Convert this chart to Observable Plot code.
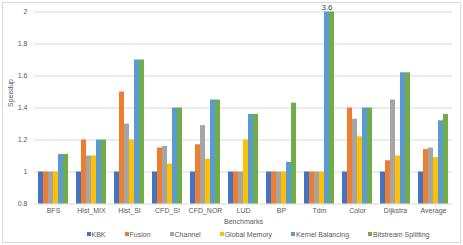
<!DOCTYPE html>
<html>
<head>
<meta charset="utf-8">
<script src="https://cdn.jsdelivr.net/npm/d3@7"></script>
<script src="https://cdn.jsdelivr.net/npm/@observablehq/plot@0.6"></script>
<style>
  html, body { margin: 0; padding: 0; background: #fff; }
  #wrap { position: relative; width: 463px; height: 245px; font-family: "Liberation Sans", Arial, sans-serif; overflow: hidden; }
  #frame { position: absolute; left: 2px; top: 2px; width: 457px; height: 239px; border: 1px solid #d9d9d9; }
  #chart { position: absolute; left: 0; top: 0; }
  #legend { position: absolute; left: 0; top: 228px; width: 463px; height: 12px; display: flex; justify-content: center; align-items: center; gap: 19px; font-size: 7px; color: #595959; padding-left: 53px; box-sizing: border-box; }
  #legend span.sw { display: inline-block; width: 4px; height: 4px; margin-right: 1px; vertical-align: middle; position: relative; top: -1px; }
</style>
</head>
<body>
<div id="wrap">
  <div id="frame"></div>
  <div id="chart"></div>
  <div id="legend"></div>
</div>
<script>
const benchmarks = ["BFS","Hist_MIX","Hist_SI","CFD_SI","CFD_NOR","LUD","BP","Tdm","Color","Dijkstra","Average"];
const series = ["KBK","Fusion","Channel","Global Memory","Kernel Balancing","Bitstream Splitting"];
const colors = ["#4472C4","#ED7D31","#A5A5A5","#FFC000","#5B9BD5","#70AD47"];
const kbk = [1,1,1,1,1,1,1,1,1,1,1];
const fusion = [1,1.2,1.5,1.15,1.17,1,1,1,1.4,1.07,1.14];
const channel = [1,1.1,1.3,1.16,1.29,1,1,1,1.33,1.45,1.15];
const globalMemory = [1,1.1,1.2,1.05,1.08,1.2,1,1,1.22,1.1,1.09];
const kernelBalancing = [1.11,1.2,1.7,1.4,1.45,1.36,1.06,3.6,1.4,1.62,1.32];
const bitstreamSplitting = [1.11,1.2,1.7,1.4,1.45,1.36,1.43,3.6,1.4,1.62,1.36];
const yTicks = [0.8,1,1.2,1.4,1.6,1.8,2];
const annotations = [{benchmark: "Tdm", series: "Kernel Balancing", label: "3.6"}];

const valuesBySeries = [kbk, fusion, channel, globalMemory, kernelBalancing, bitstreamSplitting];
const data = [];
benchmarks.forEach((b, i) => {
  series.forEach((s, j) => data.push({benchmark: b, series: s, value: valuesBySeries[j][i]}));
});

const plot = Plot.plot({
  width: 463,
  height: 228,
  marginLeft: 32,
  marginRight: 10,
  marginTop: 11.5,
  marginBottom: 24.5,
  style: {fontFamily: '"Liberation Sans", Arial, sans-serif', fontSize: "7px", color: "#595959", background: "transparent"},
  fx: {domain: benchmarks, padding: 0, axis: "bottom", tickSize: 0, tickPadding: 4, label: "Benchmarks", labelAnchor: "center", labelOffset: 20},
  x: {domain: series, axis: null, paddingInner: 0.1, paddingOuter: 0.82},
  y: {domain: [0.8, 2], ticks: yTicks, tickFormat: d => String(+d.toFixed(1)), tickSize: 0, tickPadding: 7, label: null},
  color: {domain: series, range: colors},
  marks: [
    Plot.ruleY(yTicks.slice(1), {stroke: "#d9d9d9", strokeWidth: 1}),
    Plot.ruleY([0.8], {stroke: "#d9d9d9", strokeWidth: 1}),
    Plot.barY(data, {fx: "benchmark", x: "series", y: "value", fill: "series", clip: true}),
    Plot.text(annotations, {fx: "benchmark", x: "series", text: "label", frameAnchor: "top", lineAnchor: "bottom", dy: -2, fontSize: 8, fill: "#404040"})
  ]
});
document.getElementById("chart").appendChild(plot);

// y axis title
const svg = d3.select(plot);
svg.append("text")
  .attr("transform", "translate(13,93) rotate(-90)")
  .attr("text-anchor", "middle")
  .attr("font-size", 7)
  .attr("fill", "#595959")
  .text("Speedup");

const legend = document.getElementById("legend");
series.forEach((s, i) => {
  const item = document.createElement("div");
  item.innerHTML = `<span class="sw" style="background:${colors[i]}"></span>${s}`;
  legend.appendChild(item);
});
</script>
</body>
</html>
